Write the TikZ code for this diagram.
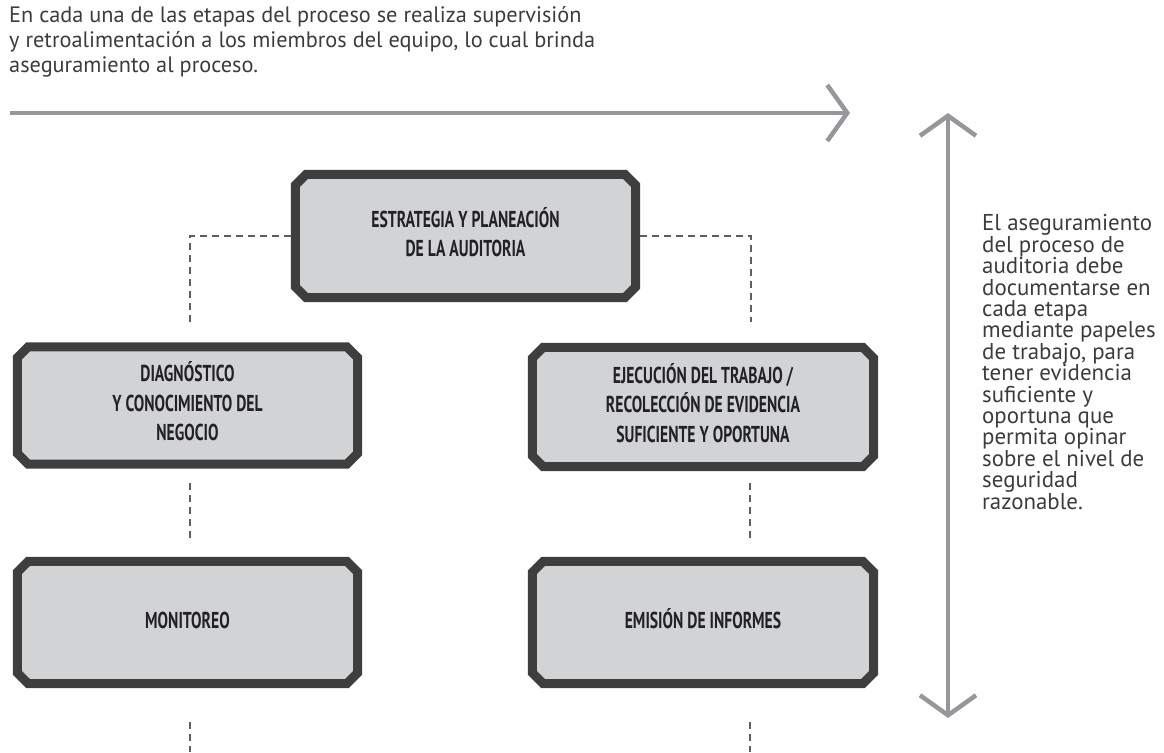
\documentclass[tikz,border=0pt]{standalone}
\usepackage{fontspec}
\usepackage{graphicx}
\setmainfont{PT Sans}
\newfontfamily\boxfont{PT Sans Bold}
\usetikzlibrary{arrows.meta}
\pgfdeclarelayer{background}
\pgfsetlayers{background,main}
\definecolor{boxfill}{RGB}{210,211,213}
\definecolor{boxline}{RGB}{62,62,62}
\definecolor{boxtext}{RGB}{34,34,36}
\definecolor{arrowgray}{RGB}{150,150,155}
\definecolor{dashgray}{RGB}{95,95,95}
\definecolor{txt}{RGB}{60,60,60}
\newcommand{\tightlines}{\lineskiplimit=-100pt\relax}
\newcommand{\stagetext}[1]{\scalebox{0.68}[1]{\boxfont\fontsize{23}{29.5}\selectfont
  \begin{tabular}{@{}c@{}}#1\end{tabular}}}
\tikzset{
  stagebox/.style={rectangle, inner sep=0pt, align=center, text=boxtext},
  boxborder/.style={draw=boxline, fill=boxfill, line width=9pt, line join=miter},
  dashline/.style={draw=dashgray, line width=1.3pt, dash pattern=on 7pt off 5pt},
  bigarrow/.style={draw=arrowgray, line width=4.5pt},
  note/.style={inner sep=0pt, align=left, text=txt}
}
\newcommand{\chamferbox}[1]{%
  \draw[boxborder] ([xshift=11pt]#1.north west) -- ([xshift=-11pt]#1.north east)
    -- ([yshift=-11pt]#1.north east) -- ([yshift=11pt]#1.south east)
    -- ([xshift=-11pt]#1.south east) -- ([xshift=11pt]#1.south west)
    -- ([yshift=11pt]#1.south west) -- ([yshift=-11pt]#1.north west) -- cycle;}
\begin{document}
\begin{tikzpicture}[x=1pt, y=-1pt]
\useasboundingbox (0,0) rectangle (1164,752);

% text notes
\node[note, anchor=base west, font={\fontsize{22.3}{25}\selectfont}] (topnote) at (9,73)
  {En cada una de las etapas del proceso se realiza supervisión\\
   y retroalimentación a los miembros del equipo, lo cual brinda\\
   aseguramiento al proceso.};
\node[note, anchor=base west, font={\fontsize{22.9}{21.4}\selectfont\tightlines}] (sidenote) at (982,509)
  {El aseguramiento\\del proceso de\\auditoria debe\\documentarse en\\cada etapa\\mediante papeles\\de trabajo, para\\tener evidencia\\suficiente y\\oportuna que\\permita opinar\\sobre el nivel de\\seguridad\\razonable.};

% arrows
\coordinate (hs) at (10,113);
\coordinate (he) at (850,113);
\draw[bigarrow, -{Straight Barb[length=20pt, width=56pt]}] (hs) -- (he);
\coordinate (vs) at (948,113);
\coordinate (ve) at (948,718);
\draw[bigarrow, {Straight Barb[length=20pt, width=56pt]}-{Straight Barb[length=20pt, width=56pt]}] (vs) -- (ve);

% stage boxes
\node[stagebox, minimum width=340pt, minimum height=123pt] (plan) at (465.5,236)
  {\stagetext{ESTRATEGIA Y PLANEACIÓN\\DE LA AUDITORIA}};
\node[stagebox, minimum width=340pt, minimum height=117pt] (diag) at (187.5,405.5)
  {\stagetext{DIAGNÓSTICO\\Y CONOCIMIENTO DEL\\NEGOCIO}};
\node[stagebox, minimum width=341pt, minimum height=119pt] (ejec) at (703,407)
  {\stagetext{EJECUCIÓN DEL TRABAJO /\\RECOLECCIÓN DE EVIDENCIA\\SUFICIENTE Y OPORTUNA}};
\node[stagebox, minimum width=340pt, minimum height=122pt] (moni) at (187.5,622.5)
  {\stagetext{MONITOREO}};
\node[stagebox, minimum width=341pt, minimum height=122pt] (emis) at (703,622.5)
  {\stagetext{EMISIÓN DE INFORMES}};
\begin{pgfonlayer}{background}
  \foreach \b in {plan,diag,ejec,moni,emis}{\chamferbox{\b}}
\end{pgfonlayer}

% dashed connectors
\coordinate (la) at (190,322);
\coordinate (ra) at (751,322);
\draw[dashline] ([xshift=-4.5pt]plan.west) -| (la);
\draw[dashline] ([xshift=4.5pt]plan.east) -| (ra);
\coordinate (lb1) at (190,483);
\coordinate (lb2) at (190,543);
\coordinate (rb1) at (750,483);
\coordinate (rb2) at (750,543);
\draw[dashline] (lb1) -- (lb2);
\draw[dashline] (rb1) -- (rb2);
\coordinate (lc1) at (190,722);
\coordinate (lc2) at (190,752);
\coordinate (rc1) at (750,722);
\coordinate (rc2) at (750,752);
\draw[dashline] (lc1) -- (lc2);
\draw[dashline] (rc1) -- (rc2);
\end{tikzpicture}
\end{document}
